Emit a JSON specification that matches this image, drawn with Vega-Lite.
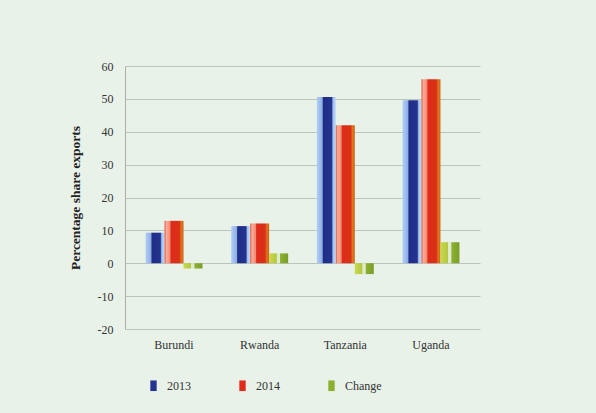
{
  "$schema": "https://vega.github.io/schema/vega-lite/v6.json",
  "width": 355,
  "height": 263,
  "autosize": {"type": "none"},
  "padding": {"left": 125, "top": 66, "right": 116, "bottom": 84},
  "background": "#e8f2e9",
  "config": {
    "font": "Liberation Serif",
    "view": {"stroke": null},
    "axis": {"labelFont": "Liberation Serif", "titleFont": "Liberation Serif", "labelColor": "#333333", "titleColor": "#222222"},
    "legend": {"labelFont": "Liberation Serif", "labelColor": "#333333"}
  },
  "data": {
    "values": [
      {"country": "Burundi", "series": "2013", "value": 9.3},
      {"country": "Burundi", "series": "2014", "value": 12.9},
      {"country": "Burundi", "series": "Change", "value": -1.6},
      {"country": "Rwanda", "series": "2013", "value": 11.3},
      {"country": "Rwanda", "series": "2014", "value": 12.1},
      {"country": "Rwanda", "series": "Change", "value": 3.0},
      {"country": "Tanzania", "series": "2013", "value": 50.6},
      {"country": "Tanzania", "series": "2014", "value": 42.0},
      {"country": "Tanzania", "series": "Change", "value": -3.3},
      {"country": "Uganda", "series": "2013", "value": 49.6},
      {"country": "Uganda", "series": "2014", "value": 56.0},
      {"country": "Uganda", "series": "Change", "value": 6.4}
    ]
  },
  "encoding": {
    "x": {
      "field": "country",
      "type": "nominal",
      "sort": ["Burundi", "Rwanda", "Tanzania", "Uganda"],
      "scale": {"paddingInner": 0.335, "paddingOuter": 0.24},
      "axis": {"title": null, "labelAngle": 0, "labelFontSize": 12, "labelPadding": 10, "ticks": false, "domain": false}
    },
    "xOffset": {"field": "series", "type": "nominal", "scale": {"paddingInner": 0, "paddingOuter": 0}},
    "y": {
      "field": "value",
      "type": "quantitative",
      "scale": {"domain": [-20, 60], "nice": false},
      "axis": {
        "title": "Percentage share exports",
        "titleFontSize": 13.5,
        "titleFontWeight": "bold",
        "titlePadding": 15,
        "values": [-20, -10, 0, 10, 20, 30, 40, 50, 60],
        "labelExpr": "'' + datum.value",
        "labelFontSize": 12,
        "labelPadding": 12,
        "ticks": false,
        "domain": true,
        "domainColor": "#a8b0a8",
        "gridColor": "#bcc5bc",
        "gridWidth": 1
      }
    }
  },
  "layer": [
    {
      "mark": {"type": "bar"},
      "encoding": {
        "fill": {
          "condition": [
            {"test": "datum.series === '2013'", "value": {"gradient": "linear", "x1": 0, "y1": 0, "x2": 1, "y2": 0, "stops": [
              {"offset": 0, "color": "#b3cff5"},
              {"offset": 0.28, "color": "#8eaee6"},
              {"offset": 0.34, "color": "#1f2d86"},
              {"offset": 0.78, "color": "#24348f"},
              {"offset": 0.85, "color": "#9dbff0"},
              {"offset": 1, "color": "#c4dbfa"}
            ]}},
            {"test": "datum.series === '2014'", "value": {"gradient": "linear", "x1": 0, "y1": 0, "x2": 1, "y2": 0, "stops": [
              {"offset": 0, "color": "#e0523a"},
              {"offset": 0.1, "color": "#f7ad9c"},
              {"offset": 0.28, "color": "#f28c70"},
              {"offset": 0.34, "color": "#e02a1c"},
              {"offset": 0.78, "color": "#d83214"},
              {"offset": 0.88, "color": "#e8701e"},
              {"offset": 1, "color": "#c26a1c"}
            ]}}
          ],
          "value": {"gradient": "linear", "x1": 0, "y1": 0, "x2": 1, "y2": 0, "stops": [
            {"offset": 0, "color": "#c9da4c"},
            {"offset": 0.38, "color": "#b4c840"},
            {"offset": 0.42, "color": "#dfeccf"},
            {"offset": 0.55, "color": "#dfeccf"},
            {"offset": 0.6, "color": "#8bb030"},
            {"offset": 1, "color": "#7a9f28"}
          ]}
        }
      }
    },
    {
      "mark": {"type": "bar", "opacity": 0},
      "encoding": {
        "color": {
          "field": "series",
          "type": "nominal",
          "scale": {
            "domain": ["2013", "2014", "Change"],
            "range": ["#24348f", "#e02a1c", "#8bb030"]
          },
          "legend": {
            "title": null,
            "orient": "none",
            "direction": "horizontal",
            "legendX": 21,
            "legendY": 312,
            "symbolType": "M-0.45,-0.75H0.45V0.75H-0.45Z",
            "symbolSize": 200,
            "symbolStrokeWidth": 0,
            "symbolOpacity": 1,
            "labelFontSize": 12,
            "labelOffset": 6,
            "columnPadding": 44,
            "encode": {
              "symbols": {
                "update": {
                  "fill": {"signal": "datum.value === '2013' ? {gradient: 'linear', x1: 0, y1: 0, x2: 1, y2: 0, stops: [{offset: 0, color: '#b3cff5'}, {offset: 0.3, color: '#8eaee6'}, {offset: 0.36, color: '#1f2d86'}, {offset: 1, color: '#24348f'}]} : datum.value === '2014' ? {gradient: 'linear', x1: 0, y1: 0, x2: 1, y2: 0, stops: [{offset: 0, color: '#e0523a'}, {offset: 0.15, color: '#f7ad9c'}, {offset: 0.3, color: '#f28c70'}, {offset: 0.36, color: '#e02a1c'}, {offset: 1, color: '#d83214'}]} : {gradient: 'linear', x1: 0, y1: 0, x2: 1, y2: 0, stops: [{offset: 0, color: '#c9da4c'}, {offset: 0.38, color: '#b4c840'}, {offset: 0.42, color: '#dfeccf'}, {offset: 0.55, color: '#dfeccf'}, {offset: 0.6, color: '#8bb030'}, {offset: 1, color: '#7a9f28'}]}"}
                }
              }
            }
          }
        }
      }
    }
  ]
}
